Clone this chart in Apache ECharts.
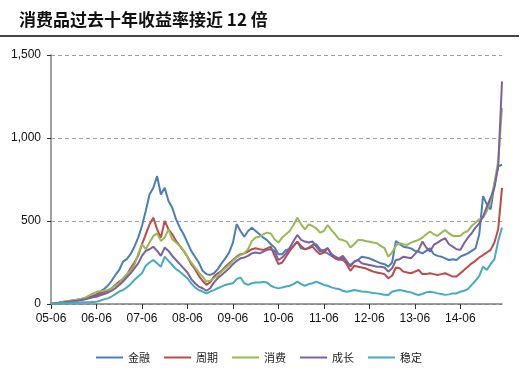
<!DOCTYPE html>
<html>
<head>
<meta charset="utf-8">
<script src="https://cdn.jsdelivr.net/npm/echarts@6/dist/echarts.min.js"></script>
<style>
html,body{margin:0;padding:0;background:#fff;}
#chart{width:525px;height:368px;}
</style>
</head>
<body>
<div id="chart"></div>
<script>
// Monthly observations from 2005-06 to 2015-05 (cumulative return, %)
const startYear = 2005, startMonth = 6, monthCount = 120;
const categories = [];
for (let i = 0; i < monthCount; i++) {
  const m = startMonth - 1 + i;
  const y = startYear + Math.floor(m / 12);
  const mm = (m % 12) + 1;
  categories.push(String(y).slice(2) + '-' + String(mm).padStart(2, '0'));
}

const seriesNames = ['金融', '周期', '消费', '成长', '稳定'];

const finance = [0,5,8,12,15,18,22,25,28,32,40,50,
  58,75,90,110,140,175,205,255,270,300,345,400,
  470,560,660,700,770,660,700,620,580,510,460,420,
  370,320,285,250,200,180,175,185,210,245,275,310,
  370,480,440,405,440,460,440,420,400,385,360,340,
  300,300,326,330,350,375,335,330,340,355,360,330,
  315,305,290,275,270,265,245,235,255,265,285,280,
  275,265,255,245,240,225,250,380,360,345,340,335,
  320,316,305,320,335,300,290,285,275,265,270,265,
  285,295,305,320,335,420,650,600,570,720,830,840];

const cyclical = [0,4,6,10,12,15,18,22,26,30,38,44,
  50,62,72,80,95,115,135,150,175,215,250,290,
  360,420,480,520,450,400,500,450,420,380,350,320,
  285,240,210,170,140,115,130,165,185,200,225,245,
  265,285,300,305,316,330,336,330,326,335,346,290,
  240,250,285,320,350,376,350,330,335,346,320,300,
  310,336,300,275,265,280,240,200,230,225,220,215,
  205,195,190,185,180,155,170,220,215,195,190,185,
  195,205,180,180,185,180,175,180,185,175,165,165,
  185,205,225,245,260,280,295,310,326,370,450,700];

const consumer = [0,5,8,12,16,20,22,28,32,38,50,62,
  72,78,80,85,95,110,125,155,180,200,235,300,
  360,330,370,410,425,380,400,450,390,370,350,320,
  285,250,220,190,165,135,140,155,170,195,215,235,
  260,280,295,305,330,380,400,405,420,430,425,390,
  370,400,420,440,476,520,480,450,480,470,456,430,
  440,476,445,420,390,385,376,340,360,385,386,380,
  375,370,366,350,336,285,310,350,366,360,356,370,
  378,386,400,420,436,420,410,430,446,425,410,410,
  410,430,440,470,490,510,520,560,620,730,860,1180];

const growth = [0,3,6,9,12,15,18,20,24,28,34,40,
  44,52,60,68,80,95,115,135,160,185,215,245,
  290,320,330,345,320,290,340,320,290,265,240,215,
  190,150,125,105,95,80,95,130,155,175,195,215,
  240,260,275,280,290,305,310,305,315,326,330,320,
  265,280,305,340,380,416,386,376,370,376,346,316,
  325,336,300,285,275,290,260,225,255,265,245,240,
  235,230,225,225,220,195,215,265,270,285,280,275,
  300,326,376,340,316,356,370,385,396,360,346,330,
  326,366,400,426,460,486,527,587,640,700,830,1340];

const stable = [0,2,3,5,5,6,8,8,10,10,10,12,
  14,20,28,34,45,60,75,84,100,120,145,165,
  185,230,250,265,245,225,285,260,235,210,195,175,
  155,124,100,84,75,64,75,84,95,105,115,120,
  125,150,160,125,115,125,130,130,132,130,110,100,
  94,100,105,110,120,135,120,110,120,125,135,125,
  115,110,100,94,90,80,74,78,84,80,75,74,
  70,66,64,60,55,54,74,80,84,80,74,70,
  60,54,60,70,74,70,64,60,55,58,64,64,
  74,80,90,115,140,170,225,205,240,270,380,460];

const yTicks = [0, 500, 1000, 1500];
const colors = ['#4A7EBB', '#BE4B48', '#98B954', '#7D60A0', '#46AAC5'];

const chart = echarts.init(document.getElementById('chart'), null, {renderer: 'canvas'});
const dataSets = [finance, cyclical, consumer, growth, stable];

chart.setOption({
  animation: false,
  backgroundColor: '#fff',
  color: colors,
  title: {
    text: '消费品过去十年收益率接近 12 倍',
    left: 14, top: 6,
    textStyle: {fontFamily: '"Noto Sans CJK SC", sans-serif', fontSize: 17, fontWeight: 'bold', color: '#111'}
  },
  graphic: [{
    type: 'line',
    shape: {x1: 0, y1: 36, x2: 519, y2: 36},
    style: {stroke: '#444', lineWidth: 2}
  }],
  legend: {
    data: seriesNames,
    left: 91, top: 347,
    icon: 'rect', itemWidth: 27, itemHeight: 2, itemGap: 14,
    textStyle: {fontFamily: '"Noto Sans CJK SC", sans-serif', fontSize: 11, color: '#222'}
  },
  grid: {left: 51, right: 23, top: 55, bottom: 64, containLabel: false},
  xAxis: {
    type: 'category',
    data: categories,
    boundaryGap: false,
    axisLine: {lineStyle: {color: '#808080', width: 1.5}},
    axisTick: {show: true, interval: 11, length: 5, inside: false, lineStyle: {color: '#333'}},
    axisLabel: {interval: 11, color: '#111', fontSize: 12, fontFamily: 'Liberation Sans, Arial', margin: 9},
    splitLine: {show: false}
  },
  yAxis: {
    type: 'value',
    min: yTicks[0], max: yTicks[yTicks.length - 1], interval: 500,
    axisLine: {show: true, lineStyle: {color: '#808080', width: 1.5}},
    axisTick: {show: true, length: 4, lineStyle: {color: '#333'}},
    axisLabel: {color: '#111', fontSize: 12, fontFamily: 'Liberation Sans, Arial', margin: 10,
      formatter: v => v.toLocaleString('en-US')},
    splitLine: {show: true, lineStyle: {color: '#A0A0A0', type: [4, 3], width: 1}}
  },
  series: seriesNames.map((n, i) => ({
    name: n,
    type: 'line',
    data: dataSets[i],
    showSymbol: false,
    symbol: 'none',
    lineStyle: {width: 2, color: colors[i]},
    itemStyle: {color: colors[i]}
  }))
});
</script>
</body>
</html>
